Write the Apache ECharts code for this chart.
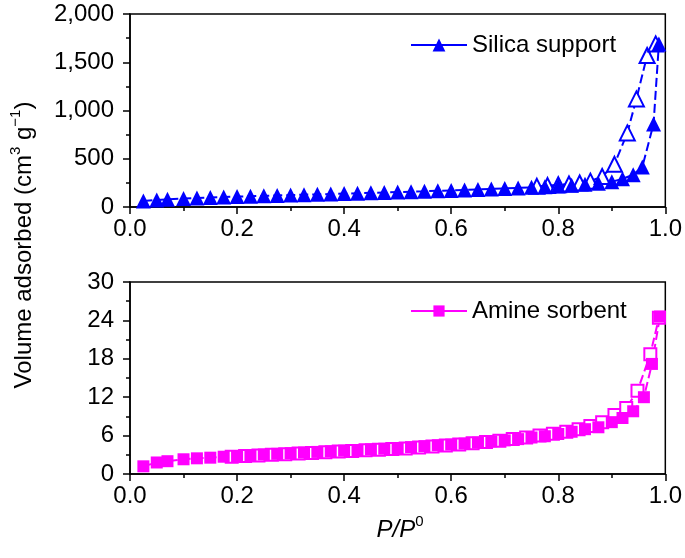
<!DOCTYPE html>
<html>
<head>
<meta charset="utf-8">
<script src="https://cdn.jsdelivr.net/npm/echarts@6/dist/echarts.min.js"></script>
<style>
html,body{margin:0;padding:0;background:#fff;}
#c{width:685px;height:558px;}
</style>
</head>
<body>
<div id="c"></div>
<script>
// ---------- data ----------
const xTicks = [0, 0.2, 0.4, 0.6, 0.8, 1.0];
const silicaTicks = [0, 500, 1000, 1500, 2000];
const amineTicks = [0, 6, 12, 18, 24, 30];

// Silica support: adsorption (filled triangles)
const silicaAdsP = [0.025,0.05,0.07,0.1,0.125,0.15,0.175,0.2,0.225,0.25,0.275,0.3,0.325,0.35,0.375,0.4,0.425,0.45,0.475,0.5,0.525,0.55,0.575,0.6,0.625,0.65,0.675,0.7,0.725,0.75,0.775,0.8,0.825,0.85,0.875,0.9,0.92,0.94,0.957,0.978,0.988];
const silicaAdsV = [62,72,80,88,94,99,104,108,112,116,120,124,128,131,135,139,143,147,151,155,159,163,168,172,177,182,187,192,198,204,211,218,226,235,246,262,292,335,415,860,1690];
// Silica support: desorption (hollow triangles)
const silicaDesP = [0.76,0.78,0.8,0.82,0.84,0.86,0.882,0.905,0.929,0.946,0.966,0.982];
const silicaDesV = [214,222,230,238,248,268,316,442,768,1120,1570,1690];

// Amine sorbent: adsorption (filled squares)
const amineAdsP = [0.025,0.05,0.07,0.1,0.125,0.15,0.175,0.2,0.225,0.25,0.275,0.3,0.325,0.35,0.375,0.4,0.425,0.45,0.475,0.5,0.525,0.55,0.575,0.6,0.625,0.65,0.675,0.7,0.725,0.75,0.775,0.8,0.825,0.85,0.875,0.9,0.92,0.94,0.96,0.975,0.99];
const amineAdsV = [1.2,1.8,2.0,2.3,2.45,2.55,2.7,2.8,2.95,3.05,3.15,3.25,3.35,3.45,3.55,3.65,3.75,3.85,3.95,4.05,4.2,4.35,4.5,4.6,4.75,4.9,5.1,5.25,5.45,5.7,5.9,6.25,6.6,7.0,7.3,8.1,8.75,9.8,12.0,17.2,24.6];
// Amine sorbent: desorption (hollow squares)
const amineDesP = [0.19,0.215,0.24,0.265,0.29,0.315,0.34,0.365,0.39,0.415,0.44,0.465,0.49,0.515,0.54,0.565,0.59,0.615,0.64,0.665,0.69,0.715,0.74,0.765,0.79,0.815,0.838,0.86,0.882,0.905,0.927,0.948,0.972,0.988];
const amineDesV = [2.7,2.8,2.9,3.0,3.1,3.2,3.3,3.4,3.5,3.6,3.7,3.8,3.9,4.0,4.15,4.3,4.45,4.6,4.8,5.0,5.2,5.45,5.7,6.0,6.3,6.6,7.0,7.5,8.1,9.2,10.3,13.0,18.7,24.4];

// ---------- chart ----------
const FONT = "'Liberation Sans', Arial, Helvetica, sans-serif";
const BLUE = '#0000ff';
const MAG = '#ff00ff';
const pair = (xs, ys) => xs.map((x, i) => [x, ys[i]]);

function xAxis(gi) {
  return {
    type: 'value', gridIndex: gi, min: xTicks[0], max: xTicks[xTicks.length - 1], interval: 0.2,
    axisLine: {show: true, onZero: false, lineStyle: {color: '#000', width: 1.5}},
    axisTick: {show: true, inside: false, length: 7, lineStyle: {color: '#000', width: 1.5}},
    minorTick: {show: true, splitNumber: 2, length: 4, lineStyle: {color: '#000', width: 1.5}},
    splitLine: {show: false},
    axisLabel: {show: true, margin: 10, color: '#000', fontSize: 24, fontFamily: FONT,
      formatter: v => v.toFixed(1)}
  };
}
function yAxis(gi, ticks, comma) {
  return {
    type: 'value', gridIndex: gi, min: ticks[0], max: ticks[ticks.length - 1], interval: ticks[1] - ticks[0],
    axisLine: {show: true, onZero: false, lineStyle: {color: '#000', width: 1.5}},
    axisTick: {show: true, inside: false, length: 7, lineStyle: {color: '#000', width: 1.5}},
    minorTick: {show: true, splitNumber: 2, length: 4, lineStyle: {color: '#000', width: 1.5}},
    splitLine: {show: false},
    axisLabel: {show: true, margin: 16, color: '#000', fontSize: 24, fontFamily: FONT,
      formatter: v => comma ? v.toLocaleString('en-US') : String(v)}
  };
}

const chart = echarts.init(document.getElementById('c'), null, {renderer: 'canvas'});
chart.setOption({
  backgroundColor: '#fff',
  animation: false,
  grid: [
    {left: 130, right: 14, top: 14, height: 193, show: true, borderColor: '#000', borderWidth: 1.5, backgroundColor: 'transparent'},
    {left: 130, right: 14, top: 282, height: 192, show: true, borderColor: '#000', borderWidth: 1.5, backgroundColor: 'transparent'}
  ],
  xAxis: [xAxis(0), xAxis(1)],
  yAxis: [yAxis(0, silicaTicks, true), yAxis(1, amineTicks, false)],
  legend: [
    {data: ['Silica support'], left: 405, top: 28, itemWidth: 56, itemHeight: 16, itemGap: 6,
      textStyle: {fontSize: 24, fontFamily: FONT, color: '#000'},
      lineStyle: {type: 'solid', width: 2}},
    {data: ['Amine sorbent'], left: 405, top: 294, itemWidth: 56, itemHeight: 14, itemGap: 6,
      textStyle: {fontSize: 24, fontFamily: FONT, color: '#000'},
      lineStyle: {type: 'solid', width: 2}}
  ],
  series: [
    {name: 'Silica support (desorption)', type: 'line', xAxisIndex: 0, yAxisIndex: 0,
      data: pair(silicaDesP, silicaDesV), symbol: 'emptyTriangle', symbolSize: 15,
      itemStyle: {color: BLUE, borderColor: BLUE, borderWidth: 1},
      lineStyle: {color: BLUE, width: 2, type: [9, 4]}},
    {name: 'Silica support', type: 'line', xAxisIndex: 0, yAxisIndex: 0,
      data: pair(silicaAdsP, silicaAdsV), symbol: 'triangle', symbolSize: 15,
      itemStyle: {color: BLUE},
      lineStyle: {color: BLUE, width: 2, type: [9, 4]}},
    {name: 'Amine sorbent (desorption)', type: 'line', xAxisIndex: 1, yAxisIndex: 1,
      data: pair(amineDesP, amineDesV), symbol: 'emptyRect', symbolSize: 12,
      itemStyle: {color: MAG, borderColor: MAG, borderWidth: 1},
      lineStyle: {color: MAG, width: 2, type: [9, 4]}},
    {name: 'Amine sorbent', type: 'line', xAxisIndex: 1, yAxisIndex: 1,
      data: pair(amineAdsP, amineAdsV), symbol: 'rect', symbolSize: 12,
      itemStyle: {color: MAG},
      lineStyle: {color: MAG, width: 2, type: [9, 4]}}
  ],
  graphic: [
    {type: 'text', x: 22, y: 245, rotation: Math.PI / 2,
      style: {
        text: '{a|Volume adsorbed (cm}{s|3}{a| g}{s|\u22121}{a|)}',
        align: 'center', verticalAlign: 'middle',
        rich: {
          a: {fontSize: 24, fontFamily: FONT, fill: '#000', lineHeight: 28, verticalAlign: 'bottom'},
          s: {fontSize: 15, fontFamily: FONT, fill: '#000', lineHeight: 28, verticalAlign: 'top'}
        }
      }},
    {type: 'text', x: 400, y: 528,
      style: {
        text: '{i|P/P}{s|0}',
        align: 'center', verticalAlign: 'middle',
        rich: {
          i: {fontSize: 24, fontFamily: FONT, fontStyle: 'italic', fill: '#000', lineHeight: 28, verticalAlign: 'bottom'},
          s: {fontSize: 15, fontFamily: FONT, fill: '#000', lineHeight: 28, verticalAlign: 'top'}
        }
      }}
  ]
});
</script>
</body>
</html>
